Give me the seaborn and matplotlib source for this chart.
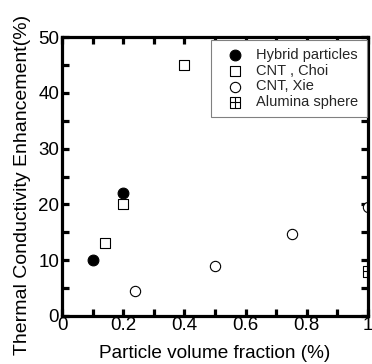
import matplotlib
matplotlib.use("Agg")
import matplotlib.pyplot as plt
import seaborn as sns
import pandas as pd
from matplotlib.path import Path

# Data
hybrid_x = [0.1, 0.2]
hybrid_y = [10, 22]
choi_x = [0.14, 0.2, 0.4]
choi_y = [13, 20, 45]
xie_x = [0.24, 0.5, 0.75, 1.0]
xie_y = [4.5, 9, 14.7, 19.5]
alumina_x = [1.0]
alumina_y = [8]
labels = ["Hybrid particles", "CNT , Choi", "CNT, Xie", "Alumina sphere"]
x_ticks = [0, 0.2, 0.4, 0.6, 0.8, 1]
x_ticklabels = ["0", "0.2", "0.4", "0.6", "0.8", "1"]
y_ticks = [0, 10, 20, 30, 40, 50]

sns.set_theme(style="white")
plt.rcParams['font.family'] = ['Liberation Sans', 'DejaVu Sans']

# square-with-cross marker
verts = [(-1, -1), (1, -1), (1, 1), (-1, 1), (-1, -1),
         (0, -1), (0, 1), (-1, 0), (1, 0)]
codes = [Path.MOVETO, Path.LINETO, Path.LINETO, Path.LINETO, Path.CLOSEPOLY,
         Path.MOVETO, Path.LINETO, Path.MOVETO, Path.LINETO]
boxplus = Path(verts, codes)

fig = plt.figure(figsize=(3.72, 3.64), dpi=100)
ax = fig.add_axes([62/372, 1-316/364, (368-62)/372, (316-37)/364])

df_h = pd.DataFrame({"x": hybrid_x, "y": hybrid_y})
df_c = pd.DataFrame({"x": choi_x, "y": choi_y})
df_x = pd.DataFrame({"x": xie_x, "y": xie_y})
df_a = pd.DataFrame({"x": alumina_x, "y": alumina_y})

sns.scatterplot(data=df_h, x="x", y="y", ax=ax, marker="o", s=60,
                color="black", edgecolor="black", linewidth=0.8, label=labels[0])
sns.scatterplot(data=df_c, x="x", y="y", ax=ax, marker="s", s=55,
                facecolor="white", edgecolor="black", linewidth=0.8, label=labels[1])
sns.scatterplot(data=df_x, x="x", y="y", ax=ax, marker="o", s=55,
                facecolor="white", edgecolor="black", linewidth=0.8, label=labels[2])
sns.scatterplot(data=df_a, x="x", y="y", ax=ax, marker=boxplus, s=55,
                facecolor="none", edgecolor="black", linewidth=0.8, label=labels[3])

ax.set_xlim(0, 1)
ax.set_ylim(0, 50)
ax.set_xticks(x_ticks)
ax.set_xticklabels(x_ticklabels)
ax.set_yticks(y_ticks)
ax.set_xticks([0.1, 0.3, 0.5, 0.7, 0.9], minor=True)
ax.set_yticks([5, 15, 25, 35, 45], minor=True)

for s in ax.spines.values():
    s.set_linewidth(2.3)
    s.set_color("black")

ax.tick_params(which="both", direction="in", top=True, right=True,
               bottom=True, left=True, length=5, width=2.3, color="black")
ax.tick_params(axis="x", which="major", labelsize=13.5, pad=1, labelcolor="black")
ax.tick_params(axis="y", which="major", labelsize=13.5, pad=2, labelcolor="black")

ax.set_xlabel("Particle volume fraction (%)", fontsize=13.7, labelpad=8, color="black")
ax.set_ylabel("Thermal Conductivity Enhancement(%)", fontsize=14, labelpad=2, color="black")
ax.yaxis.set_label_coords(-0.10, 0.47)

leg = ax.legend(loc="upper right", bbox_to_anchor=(1.005, 1.0), borderaxespad=0.2,
                fontsize=10.5, frameon=True, fancybox=False, edgecolor="gray",
                labelspacing=0.12, handlelength=2.2, handletextpad=0.35,
                borderpad=0.55, framealpha=1)
leg.get_frame().set_linewidth(0.8)

fig.savefig("out.png", dpi=100)
